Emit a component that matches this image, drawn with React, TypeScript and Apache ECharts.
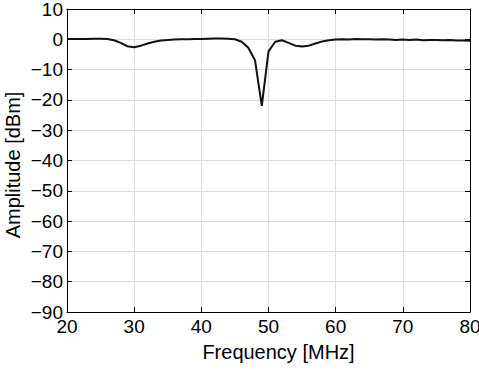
import React, { useEffect, useRef } from "react";
import * as echarts from "echarts";

const freqMHz: number[] = [
  20, 21, 22, 23, 24, 25, 26, 27, 28, 29, 30, 31, 32, 33, 34, 35, 36, 37, 38, 39, 40,
  41, 42, 43, 44, 45, 46, 47, 48, 49, 50, 51, 52, 53, 54, 55, 56, 57, 58, 59, 60,
  61, 62, 63, 64, 65, 66, 67, 68, 69, 70, 71, 72, 73, 74, 75, 76, 77, 78, 79, 80,
];
const amplitudeDbm: number[] = [
  0.1, 0.1, 0.1, 0.1, 0.15, 0.2, 0.1, -0.3, -1.2, -2.3, -2.6, -2.1, -1.4, -0.8, -0.4, -0.2, -0.1, 0, 0, 0.1, 0.1,
  0.2, 0.3, 0.3, 0.2, 0, -0.8, -2.8, -7, -22, -4, -0.8, -0.3, -1.2, -2.1, -2.4, -2.1, -1.4, -0.7, -0.3, -0.1,
  0, -0.1, 0.1, 0, 0, -0.1, 0, -0.1, -0.2, -0.1, -0.2, -0.1, -0.3, -0.2, -0.2, -0.3, -0.2, -0.4, -0.4, -0.5,
];
const xTitle = "Frequency [MHz]";
const yTitle = "Amplitude [dBm]";

const FONT = "'Liberation Sans', Arial, sans-serif";
const fmt = (v: number) => (v < 0 ? "\u2212" + Math.abs(v) : String(v));

export default function App() {
  const ref = useRef<HTMLDivElement>(null);
  useEffect(() => {
    if (!ref.current) return;
    const chart = echarts.init(ref.current, null, { renderer: "svg" });
    const axisLine = { show: true, onZero: false, lineStyle: { color: "#000", width: 1 } };
    const tick = { show: true, inside: true, length: 5, lineStyle: { color: "#000", width: 1 } };
    chart.setOption({
      animation: false,
      backgroundColor: "#fff",
      grid: { left: 67, right: 9, top: 9, bottom: 58, containLabel: false, outerBoundsMode: "none" },
      xAxis: [
        {
          type: "value",
          min: 20,
          max: 80,
          interval: 10,
          position: "bottom",
          axisLine,
          axisTick: tick,
          axisLabel: { color: "#000", fontSize: 19, fontFamily: FONT, margin: 5, formatter: fmt },
          splitLine: { show: true, lineStyle: { color: "#dcdcdc", width: 1 } },
          name: xTitle,
          nameLocation: "middle",
          nameGap: 30,
          nameTextStyle: { color: "#000", fontSize: 20, fontFamily: FONT, padding: [0, 0, 0, 20] },
        },
        {
          type: "value",
          min: 20,
          max: 80,
          interval: 10,
          position: "top",
          axisLine,
          axisTick: tick,
          axisLabel: { show: false },
          splitLine: { show: false },
        },
      ],
      yAxis: [
        {
          type: "value",
          min: -90,
          max: 10,
          interval: 10,
          position: "left",
          axisLine,
          axisTick: tick,
          axisLabel: { color: "#000", fontSize: 19, fontFamily: FONT, margin: 4, formatter: fmt },
          splitLine: { show: true, lineStyle: { color: "#dcdcdc", width: 1 } },
        },
        {
          type: "value",
          min: -90,
          max: 10,
          interval: 10,
          position: "right",
          axisLine,
          axisTick: tick,
          axisLabel: { show: false },
          splitLine: { show: false },
        },
      ],
      graphic: [
        {
          type: "text",
          x: 13,
          y: 165,
          rotation: Math.PI / 2,
          style: {
            text: yTitle,
            fill: "#000",
            fontSize: 20,
            fontFamily: FONT,
            align: "center",
            verticalAlign: "middle",
          },
        },
      ],
      series: [
        {
          type: "line",
          data: freqMHz.map((f, i) => [f, amplitudeDbm[i]]),
          showSymbol: false,
          symbol: "none",
          lineStyle: { color: "#111", width: 2 },
          clip: true,
        },
      ],
    });
    return () => chart.dispose();
  }, []);
  return (
    <div
      ref={ref}
      style={{ position: "fixed", left: 0, top: 0, width: 479, height: 370, background: "#fff" }}
    />
  );
}
